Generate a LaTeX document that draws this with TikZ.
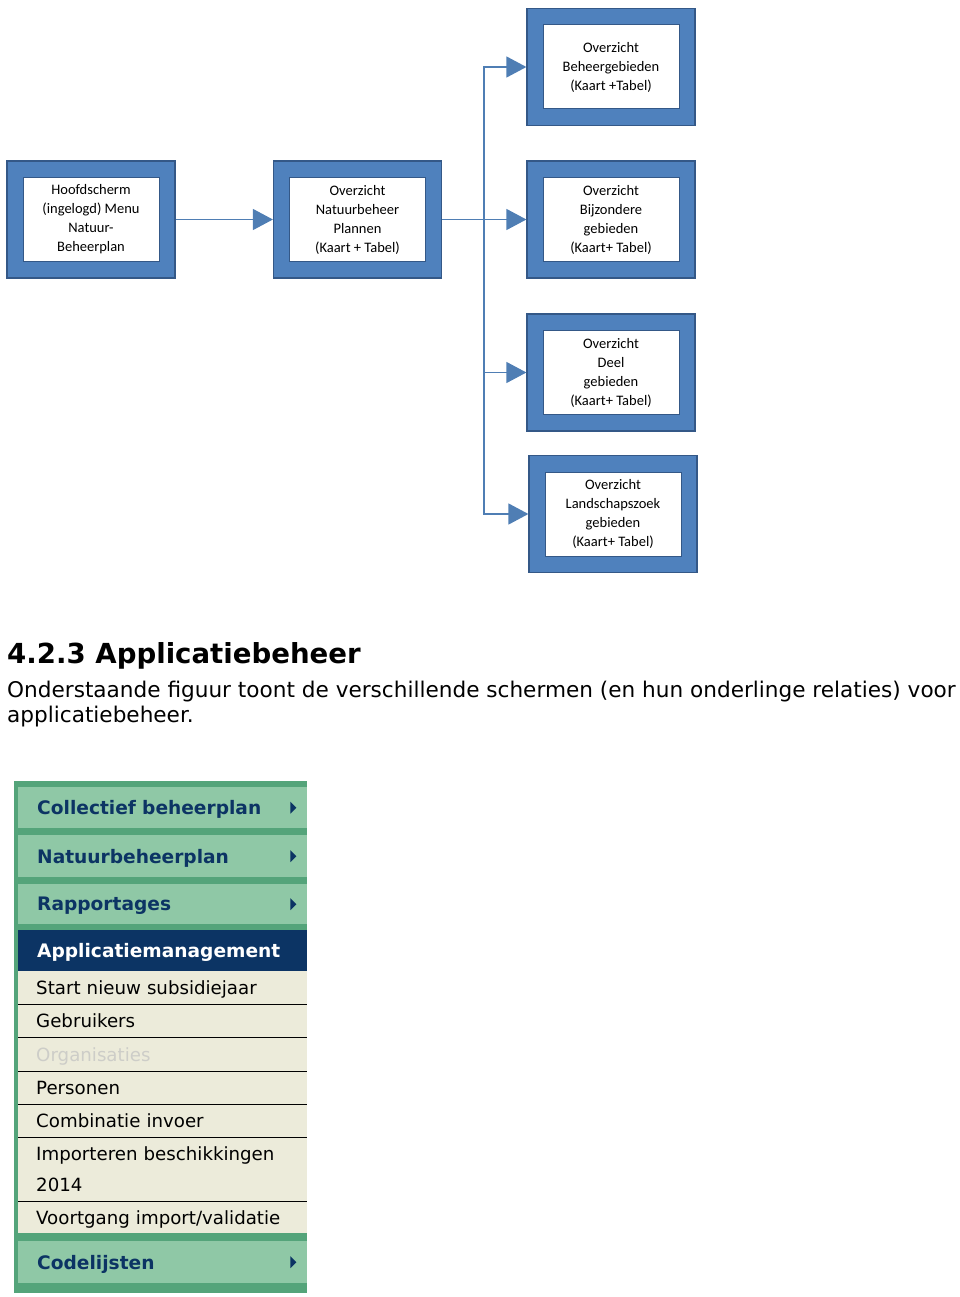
\documentclass[tikz,border=0pt]{standalone}
\usepackage{fontspec}
\setmainfont{DejaVu Sans}
\newfontfamily\boxfont{Carlito}
\usetikzlibrary{arrows.meta}

\definecolor{boxblue}{RGB}{79,129,189}
\definecolor{boxdark}{RGB}{52,88,135}
\definecolor{linkblue}{RGB}{79,126,180}
\definecolor{menugreen}{RGB}{84,164,122}
\definecolor{menulight}{RGB}{143,200,166}
\definecolor{menunavy}{RGB}{12,52,100}
\definecolor{menubeige}{RGB}{236,235,218}
\definecolor{menugrey}{RGB}{205,205,200}

\newcommand{\menupijl}[1]{
    \fill[menunavy] (#1.east) ++(-17,-6) -- ++(6,6) -- ++(-6,6) -- cycle;
}

\begin{document}
\begin{tikzpicture}[x=1pt,y=-1pt,
  scherm/.style={draw=boxdark, fill=boxblue, line width=1.2pt, minimum width=168, minimum height=117, inner sep=0},
  schermtekst/.style={draw=boxdark, fill=white, line width=1pt, minimum width=136, minimum height=84, inner sep=0,
    font=\boxfont\fontsize{14.5}{19}\selectfont, align=center},
  link/.style={draw=linkblue, line width=1.3pt, -{Triangle[length=20pt,width=21pt]}},
  menukop/.style={anchor=north west, fill=menulight, text=menunavy, font=\bfseries\fontsize{18.6}{20}\selectfont,
    text width=251, text depth=0pt, inner xsep=19, inner ysep=0, align=left},
  menuitem/.style={anchor=north west, fill=menubeige, text=black, font=\fontsize{18.2}{31}\selectfont,
    text width=253, text depth=0pt, inner xsep=18, inner ysep=0, align=left},
  scheiding/.style={draw=black, line width=1.3pt}
]
\useasboundingbox (0,0) rectangle (960,1297);

% schermen
\node[scherm] (hoofd) at (91,219.5) {};
\node[schermtekst] (hoofdT) at (hoofd) {Hoofdscherm\\(ingelogd) Menu\\Natuur-\\Beheerplan};
\node[scherm] (nbp) at (357.5,219.5) {};
\node[schermtekst] (nbpT) at (nbp) {Overzicht\\Natuurbeheer\\Plannen\\(Kaart + Tabel)};
\node[scherm] (beheer) at (611,67) {};
\node[schermtekst] (beheerT) at (beheer) {Overzicht\\Beheergebieden\\(Kaart +Tabel)};
\node[scherm] (bijz) at (611,219.5) {};
\node[schermtekst] (bijzT) at (bijz) {Overzicht\\Bijzondere\\gebieden\\(Kaart+ Tabel)};
\node[scherm] (deel) at (611,372.5) {};
\node[schermtekst] (deelT) at (deel) {Overzicht\\Deel\\gebieden\\(Kaart+ Tabel)};
\node[scherm] (land) at (613,514) {};
\node[schermtekst] (landT) at (land) {Overzicht\\Landschapszoek\\gebieden\\(Kaart+ Tabel)};

\coordinate (splits) at (484,219.5);
\draw[link] (hoofd) -- (nbp);
\draw[link] (nbp) -- (bijz);
\draw[link] (splits) |- (beheer.west);
\draw[link] (splits) |- (deel.west);
\draw[link] (splits) |- (land.west);

% tekst
\node[anchor=base west, inner sep=0, font=\bfseries\fontsize{27.6}{30}\selectfont] (kop) at (7,663) {4.2.3 Applicatiebeheer};
\node[anchor=base west, inner sep=0, font=\fontsize{21.6}{25}\selectfont] (regel1) at (7,697)
  {Onderstaande figuur toont de verschillende schermen (en hun onderlinge relaties) voor};
\node[anchor=base west, inner sep=0, font=\fontsize{21.6}{25}\selectfont] (regel2) at (7,722) {applicatiebeheer.};

% menu
\fill[menugreen] (14,781) rectangle (307,1293);
\node[menukop, minimum height=41] (collectief) at (18,787) {Collectief beheerplan};
\node[menukop, minimum height=42] (natuur) at (18,835) {Natuurbeheerplan};
\node[menukop, minimum height=40] (rapport) at (18,884) {Rapportages};
\node[menukop, minimum height=41, fill=menunavy, text=white] (appl) at (18,930) {Applicatiemanagement};
\node[menuitem, minimum height=33] (start) at (18,971) {Start nieuw subsidiejaar};
\node[menuitem, minimum height=33] (gebr) at (18,1004) {Gebruikers};
\node[menuitem, minimum height=34, text=menugrey] (org) at (18,1037) {Organisaties};
\node[menuitem, minimum height=33] (pers) at (18,1071) {Personen};
\node[menuitem, minimum height=33] (comb) at (18,1104) {Combinatie invoer};
\node[menuitem, minimum height=64, text depth=] (imp) at (18,1137) {Importeren beschikkingen\\2014};
\node[menuitem, minimum height=32] (voort) at (18,1201) {Voortgang import/validatie};
\node[menukop, minimum height=42] (code) at (18,1241) {Codelijsten};

\draw[scheiding] (start.south west) -- (start.south east);
\draw[scheiding] (gebr.south west) -- (gebr.south east);
\draw[scheiding] (org.south west) -- (org.south east);
\draw[scheiding] (pers.south west) -- (pers.south east);
\draw[scheiding] (comb.south west) -- (comb.south east);
\draw[scheiding] (imp.south west) -- (imp.south east);

\menupijl{collectief}
\menupijl{natuur}
\menupijl{rapport}
\menupijl{code}

\end{tikzpicture}
\end{document}
